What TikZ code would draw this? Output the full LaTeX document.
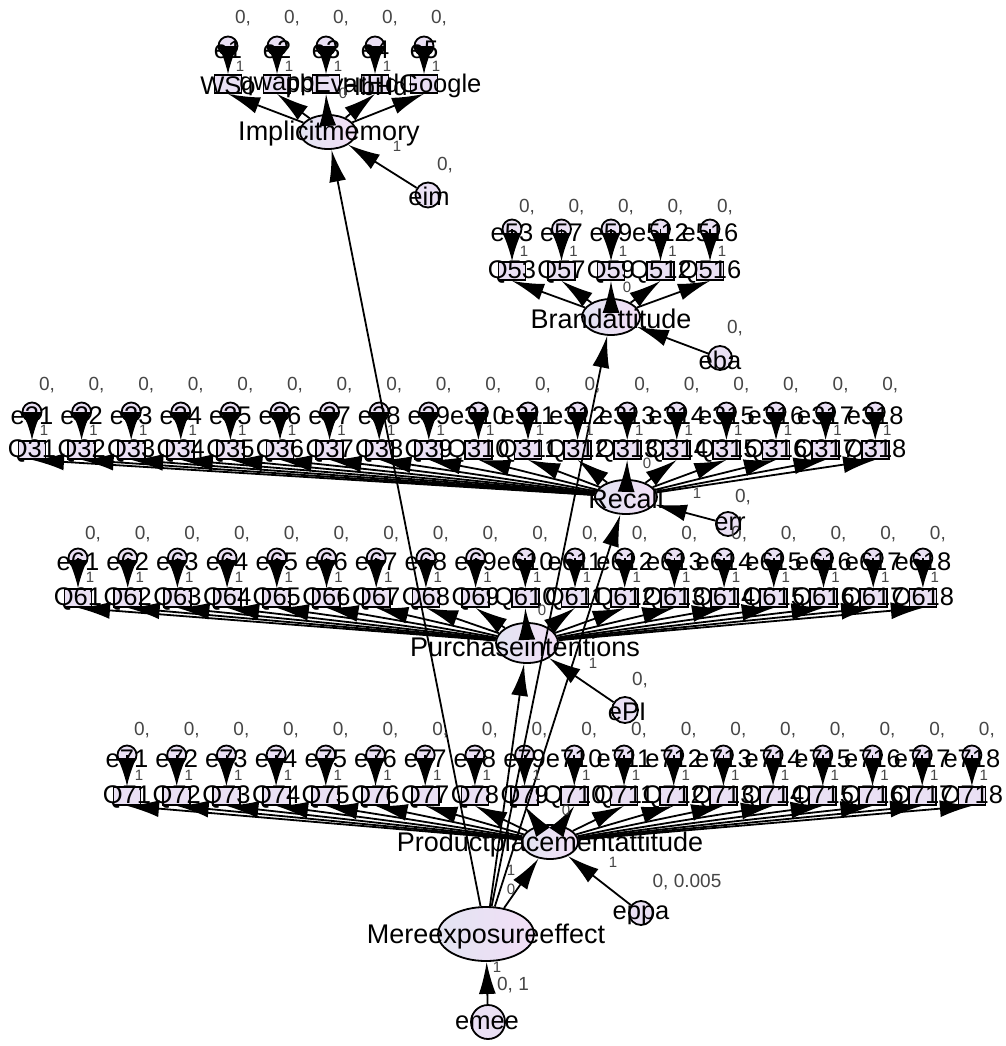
\documentclass[tikz,border=0pt]{standalone}
\usepackage{fontspec}
\setmainfont{Liberation Sans}
\usetikzlibrary{shapes.geometric,arrows.meta,calc}
\pgfdeclarelayer{arr}
\pgfdeclarelayer{txt}
\pgfsetlayers{main,arr,txt}
\definecolor{lav}{RGB}{234,224,244}
\definecolor{lavA}{RGB}{226,228,242}
\definecolor{lavB}{RGB}{242,222,246}
\definecolor{lblgray}{RGB}{70,70,70}
\begin{document}
\begin{tikzpicture}[x=1pt,y=-1pt,
  lat/.style={ellipse, draw, line width=1.8pt, left color=lavA, right color=lavB, inner sep=0pt},
  obs/.style={rectangle, draw, line width=1.8pt, fill=lav, minimum width=27pt, minimum height=18pt, inner sep=0pt},
  err/.style={circle, draw, line width=1.8pt, fill=lav, inner sep=0pt, minimum size=19pt},
  lbl/.style={font=\fontsize{25.5}{25.5}\selectfont, inner sep=0pt, text=black},
  big/.style={font=\fontsize{27}{27}\selectfont, inner sep=0pt, text=black},
  num/.style={font=\fontsize{19}{19}\selectfont, inner sep=0pt, text=lblgray},
  one/.style={font=\fontsize{15}{15}\selectfont, inner sep=0pt, text=lblgray},
  reg/.style={line width=1.8pt, -{Latex[length=32pt,width=17pt]}},
  erra/.style={line width=1.8pt, -{Latex[length=28pt,width=19pt]}},
]
\useasboundingbox[fill=white] (0,0) rectangle (1005,1046);

% latent variables
\node[lat, minimum width=96pt, minimum height=54pt] (ME) at (486,934) {};
\node[lat, minimum width=56pt, minimum height=34pt] (PPA) at (550,842) {};
\node[lat, minimum width=62pt, minimum height=40pt] (PI) at (527,643) {};
\node[lat, minimum width=62pt, minimum height=34pt] (RC) at (626,497) {};
\node[lat, minimum width=58pt, minimum height=36pt] (BA) at (611,317) {};
\node[lat, minimum width=56pt, minimum height=34pt] (IM) at (328,132) {};

% disturbances
\node[err, minimum size=34pt] (emee) at (488,1022) {};
\node[err, minimum size=24pt] (eppa) at (641,913) {};
\node[err, minimum size=26pt] (ePI) at (625,710) {};
\node[err, minimum size=24pt] (err) at (728,524) {};
\node[err, minimum size=24pt] (eba) at (720,358) {};
\node[err, minimum size=25pt] (eim) at (428,195) {};

% Implicit memory indicators
\foreach \nm [count=\i] in {WSo,qwapp,pbEvar,HbHd,HdGoogle} {
  \pgfmathsetmacro\xx{228+49*(\i-1)}
  \node[obs] (im-\i) at (\xx,84) {};
  \node[err] (eim-\i) at (\xx,46) {};
  \begin{pgfonlayer}{arr}
    \draw[reg] (IM) -- (im-\i.south);
    \draw[erra] (eim-\i.center) -- (im-\i.north);
  \end{pgfonlayer}
  \begin{pgfonlayer}{txt}
    \node[lbl] at (\xx,86) {\nm};
    \node[lbl] at (\xx,50) {e\i};
    \node[num] at (\xx+15,18) {0,};
    \node[one] at (\xx+12,66) {1};
  \end{pgfonlayer}
}

% Brand attitude indicators
\foreach \n [count=\i] in {3,7,9,12,16} {
  \pgfmathsetmacro\xx{512+49.5*(\i-1)}
  \node[obs] (ba-\i) at (\xx,271) {};
  \node[err] (eba-\i) at (\xx,229) {};
  \begin{pgfonlayer}{arr}
    \draw[reg] (BA) -- (ba-\i.south);
    \draw[erra] (eba-\i.center) -- (ba-\i.north);
  \end{pgfonlayer}
  \begin{pgfonlayer}{txt}
    \node[lbl] at (\xx,272) {Q5\n};
    \node[lbl] at (\xx,233) {e5\n};
    \node[num] at (\xx+15,207) {0,};
    \node[one] at (\xx+12,251) {1};
  \end{pgfonlayer}
}

% Recall indicators
\foreach \i in {1,...,18} {
  \pgfmathsetmacro\xx{32+49.6*(\i-1)}
  \node[obs] (rc-\i) at (\xx,450) {};
  \node[err] (erc-\i) at (\xx,412) {};
  \begin{pgfonlayer}{arr}
    \draw[reg] (RC) -- (rc-\i.south);
    \draw[erra] (erc-\i.center) -- (rc-\i.north);
  \end{pgfonlayer}
  \begin{pgfonlayer}{txt}
    \node[lbl] at (\xx,451) {Q3\i};
    \node[lbl] at (\xx,416) {e3\i};
    \node[num] at (\xx+15,385) {0,};
    \node[one] at (\xx+12,430) {1};
  \end{pgfonlayer}
}

% Purchase intentions indicators
\foreach \i in {1,...,18} {
  \pgfmathsetmacro\xx{78+49.7*(\i-1)}
  \node[obs] (pi-\i) at (\xx,598) {};
  \node[err] (epi-\i) at (\xx,558) {};
  \begin{pgfonlayer}{arr}
    \draw[reg] (PI) -- (pi-\i.south);
    \draw[erra] (epi-\i.center) -- (pi-\i.north);
  \end{pgfonlayer}
  \begin{pgfonlayer}{txt}
    \node[lbl] at (\xx,599) {Q6\i};
    \node[lbl] at (\xx,562) {e6\i};
    \node[num] at (\xx+15,534) {0,};
    \node[one] at (\xx+12,577) {1};
  \end{pgfonlayer}
}

% Product placement attitude indicators
\foreach \i in {1,...,18} {
  \pgfmathsetmacro\xx{127+49.7*(\i-1)}
  \node[obs] (pp-\i) at (\xx,796) {};
  \node[err] (epp-\i) at (\xx,755) {};
  \begin{pgfonlayer}{arr}
    \draw[reg] (PPA) -- (pp-\i.south);
    \draw[erra] (epp-\i.center) -- (pp-\i.north);
  \end{pgfonlayer}
  \begin{pgfonlayer}{txt}
    \node[lbl] at (\xx,797) {Q7\i};
    \node[lbl] at (\xx,759) {e7\i};
    \node[num] at (\xx+15,730) {0,};
    \node[one] at (\xx+12,775) {1};
  \end{pgfonlayer}
}

% structural paths
\begin{pgfonlayer}{arr}
  \draw[reg] (ME) -- (IM);
  \draw[reg] (ME) -- (BA);
  \draw[reg] (ME) -- (RC);
  \draw[reg] (ME) -- (PI);
  \draw[reg] (ME) -- (PPA);
  \draw[reg] (emee) -- (ME);
  \draw[reg] (eppa) -- (PPA);
  \draw[reg] (ePI) -- (PI);
  \draw[reg] (err) -- (RC);
  \draw[reg] (eba) -- (BA);
  \draw[reg] (eim) -- (IM);
\end{pgfonlayer}

% labels
\begin{pgfonlayer}{txt}
  \node[big] at (486,937) {Mereexposureeffect};
  \node[big] at (550,845) {Productplacementattitude};
  \node[big] at (525,647) {Purchaseintentions};
  \node[big] at (626,499) {Recall};
  \node[big] at (611,319) {Brandattitude};
  \node[big] at (329,134) {Implicitmemory};
  \node[lbl] at (487,1023) {emee};
  \node[lbl] at (641,915) {eppa};
  \node[lbl] at (627,712) {ePI};
  \node[lbl] at (730,524) {err};
  \node[lbl] at (720,360) {eba};
  \node[lbl] at (429,196) {eim};
  % means / variances
  \node[num] at (445,165) {0,};
  \node[one] at (397,146) {1};
  \node[one] at (343,93) {0};
  \node[num] at (735,328) {0,};
  \node[one] at (627,287) {0};
  \node[num] at (743,497) {0,};
  \node[one] at (697,493) {1};
  \node[one] at (647,463) {0};
  \node[num] at (640,680) {0,};
  \node[one] at (593,663) {1};
  \node[one] at (542,610) {0};
  \node[num] at (687,882) {0, 0.005};
  \node[one] at (613,862) {1};
  \node[one] at (566,810) {0};
  \node[num] at (513,985) {0, 1};
  \node[one] at (497,967) {1};
  \node[one] at (511,889) {0};
  \node[one] at (511,870) {1};
\end{pgfonlayer}
\end{tikzpicture}
\end{document}
